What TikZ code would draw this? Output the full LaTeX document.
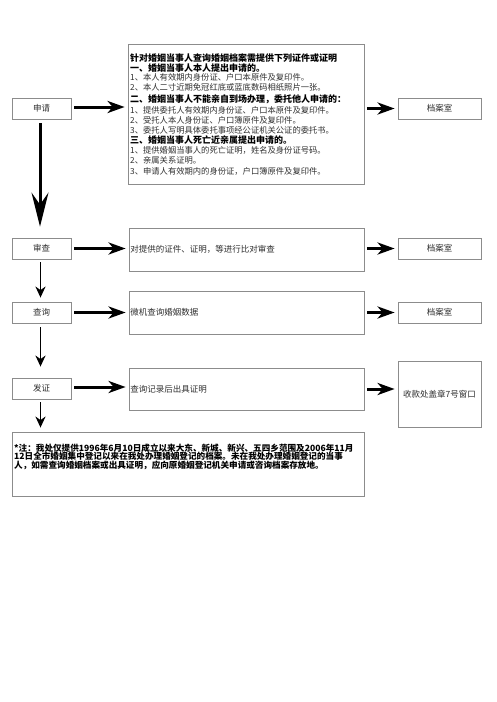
\documentclass[tikz,border=0pt]{standalone}
\usepackage{fontspec}
\setmainfont{Noto Sans CJK SC}
\usetikzlibrary{arrows.meta}
\definecolor{bordergray}{HTML}{8C8C8C}
\definecolor{txtgray}{HTML}{303030}
\begin{document}
\begin{tikzpicture}[x=1pt,y=-1pt,
  box/.style={draw=bordergray,line width=0.8pt,inner sep=0pt,font=\fontsize{8.5}{10}\selectfont,text=txtgray},
  txt/.style={inner sep=0pt,anchor=base west},
  nl/.style={txt,font=\fontsize{8.3}{10}\selectfont,text=txtgray},
  bl/.style={txt,font=\bfseries\fontsize{9}{10}\selectfont,text=black},
  note/.style={txt,font=\bfseries\fontsize{8.6}{10}\selectfont,text=black},
  harrow/.style={line width=3pt,-{Stealth[length=17pt,width=12pt,inset=5pt]}},
  varrow/.style={line width=1.8pt,-{Stealth[length=11pt,width=10pt,inset=3.5pt]}},
  bigarrow/.style={line width=3pt,-{Stealth[length=34pt,width=17pt,inset=12pt]}}
]
\useasboundingbox[fill=white] (0,0) rectangle (496,702);

% left column
\node[box,minimum width=59pt,minimum height=21pt] (sq) at (41.5,108.5) {申请};
\node[box,minimum width=59pt,minimum height=21pt] (sc) at (41.5,248.5) {审查};
\node[box,minimum width=59pt,minimum height=21pt] (cx) at (41.5,312.5) {查询};
\node[box,minimum width=59pt,minimum height=21pt] (fz) at (41.5,388.5) {发证};

% middle column
\node[box,minimum width=236pt,minimum height=140pt] (big) at (246,114) {};
\node[box,minimum width=235pt,minimum height=43pt] (m2) at (246.5,249.5) {};
\node[box,minimum width=235pt,minimum height=43pt] (m3) at (246.5,312.5) {};
\node[box,minimum width=235pt,minimum height=42pt] (m4) at (246.5,389) {};

\node[box,draw=none,anchor=west] (t2) at (130,249) {对提供的证件、证明，等进行比对审查};
\node[box,draw=none,anchor=west] (t3) at (130,312.5) {微机查询婚姻数据};
\node[box,draw=none,anchor=west] (t4) at (130,389.5) {查询记录后出具证明};

% big box text
\node[bl] (l1) at (130,61.4) {针对婚姻当事人查询婚姻档案需提供下列证件或证明};
\node[bl] (l2) at (130,71.6) {一、婚姻当事人本人提出申请的。};
\node[nl] (l3) at (130,80.6) {1、本人有效期内身份证、户口本原件及复印件。};
\node[nl] (l4) at (130,90.8) {2、本人二寸近期免冠红底或蓝底数码相纸照片一张。};
\node[bl] (l5) at (130,102.4) {二、婚姻当事人不能亲自到场办理，委托他人申请的：};
\node[nl] (l6) at (130,113.2) {1、提供委托人有效期内身份证、户口本原件及复印件。};
\node[nl] (l7) at (130,123.3) {2、受托人本人身份证、户口簿原件及复印件。};
\node[nl] (l8) at (130,133.4) {3、委托人写明具体委托事项经公证机关公证的委托书。};
\node[bl] (l9) at (130,143.6) {三、婚姻当事人死亡近亲属提出申请的。};
\node[nl] (l10) at (130,153.6) {1、提供婚姻当事人的死亡证明，姓名及身份证号码。};
\node[nl] (l11) at (130,163.8) {2、亲属关系证明。};
\node[nl] (l12) at (130,174) {3、申请人有效期内的身份证，户口簿原件及复印件。};

% right column
\node[box,minimum width=83pt,minimum height=21pt] (d1) at (439.5,108.5) {档案室};
\node[box,minimum width=83pt,minimum height=21pt] (d2) at (439.5,248.5) {档案室};
\node[box,minimum width=83pt,minimum height=21pt] (d3) at (439.5,312.5) {档案室};
\node[box,minimum width=83pt,minimum height=66pt] (sk) at (439.5,394) {收款处盖章7号窗口};

% note
\node[box,minimum width=352pt,minimum height=64pt] (nt) at (188,464) {};
\node[note] (n1) at (14,451.3) {*注：我处仅提供1996年6月10日成立以来大东、新城、新兴、五四乡范围及2006年11月};
\node[note] (n2) at (14,459.9) {12日全市婚姻集中登记以来在我处办理婚姻登记的档案。未在我处办理婚姻登记的当事};
\node[note] (n3) at (14,468.5) {人，如需查询婚姻档案或出具证明，应向原婚姻登记机关申请或咨询档案存放地。};

% horizontal arrows (left)
\draw[harrow,shorten <=3pt,shorten >=3pt] ([yshift=1.5pt]sq.east) -- ([yshift=1.5pt]sq.east -| big.west);
\draw[harrow,shorten <=3pt,shorten >=3pt] (sc.east) -- (sc.east -| m2.west);
\draw[harrow,shorten <=3pt,shorten >=3pt] (cx.east) -- (cx.east -| m3.west);
\draw[harrow,shorten <=3pt,shorten >=3pt] ([yshift=1.5pt]fz.east) -- ([yshift=1.5pt]fz.east -| m4.west);
% horizontal arrows (right)
\draw[harrow,shorten <=3pt,shorten >=3pt] (d1.west -| big.east) -- (d1.west);
\draw[harrow,shorten <=3pt,shorten >=3pt] (d2.west -| m2.east) -- (d2.west);
\draw[harrow,shorten <=3pt,shorten >=3pt] (d3.west -| m3.east) -- (d3.west);
\draw[harrow,shorten <=3pt,shorten >=3pt] (m4.east) -- (m4.east -| sk.west);

% vertical arrows
\draw[bigarrow,shorten <=4pt,shorten >=11pt] ([xshift=-1.5pt]sq.south) -- ([xshift=-1.5pt]sc.north);
\draw[varrow,shorten <=3pt,shorten >=4pt] ([xshift=-1pt]sc.south) -- ([xshift=-1pt]cx.north);
\draw[varrow,shorten <=4pt,shorten >=11pt] ([xshift=-1pt]cx.south) -- ([xshift=-1pt]fz.north);
\draw[varrow,shorten <=3pt,shorten >=4pt] ([xshift=-1pt]fz.south) -- ([xshift=-1pt]fz.south |- nt.north);
\end{tikzpicture}
\end{document}
